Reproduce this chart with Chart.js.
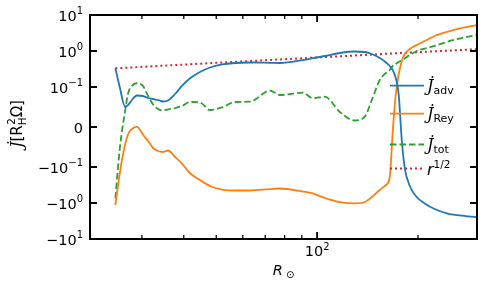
<!DOCTYPE html>
<html>
<head>
<meta charset="utf-8">
<script src="https://cdn.jsdelivr.net/npm/chart.js@4.4.1/dist/chart.umd.min.js"></script>
<style>
  body { margin: 0; background: #fff; }
  #wrap { width: 486px; height: 288px; }
</style>
</head>
<body>
<div id="wrap"><canvas id="chart" width="486" height="288"></canvas></div>
<script>
// radius grid (R_sun) shared by the three flux curves
const radius = [25, 25.8, 26.7, 27.3, 28.0, 29.0, 30.2, 31.3, 32.4, 33.5,
  34.7, 35.9, 37.7, 39.5, 41.7, 44.7, 47.9, 52.0, 56.8, 63.0,
  72.3, 77.4, 90.7, 97.1, 105.4, 116.9, 129.5, 138.8, 145.6, 153.8,
  159.2, 164.7, 168.1, 171.6, 175.2, 178.9, 182.6, 189.0, 198.2, 209.4,
  224.3, 243.5, 266.3, 299.2];

const jAdv = [0.331, 0.0975, 0.0512, 0.055, 0.0675, 0.0788, 0.0775, 0.0725, 0.070, 0.0675,
  0.0638, 0.0663, 0.0825, 0.107, 0.172, 0.261, 0.348, 0.422, 0.464, 0.48,
  0.47, 0.464, 0.56, 0.63, 0.726, 0.88, 0.968, 0.938, 0.826, 0.64,
  0.511, 0.383, 0.297, 0.178, 0.080, -0.0325, -0.107, -0.337, -0.681, -1.03,
  -1.47, -1.93, -2.22, -2.49];

const jRey = [-1.14, -0.138, -0.045, -0.0175, -0.005, 0.0005, -0.0188, -0.035, -0.0525, -0.060,
  -0.0625, -0.0588, -0.075, -0.0913, -0.147, -0.23, -0.337, -0.422, -0.45, -0.45,
  -0.41, -0.395, -0.48, -0.544, -0.72, -0.94, -1.02, -0.94, -0.68, -0.435,
  -0.337, -0.19, -0.0125, 0.080, 0.23, 0.527, 0.826, 1.14, 1.47, 1.89,
  2.61, 3.37, 4.22, 5.27];

const jTot = [-0.741, -0.05, 0.0375, 0.085, 0.107, 0.127, 0.107, 0.0775, 0.0563, 0.045,
  0.0413, 0.0438, 0.0475, 0.0525, 0.0625, 0.0613, 0.0425, 0.0488, 0.0625, 0.0633,
  0.0908, 0.080, 0.0858, 0.0718, 0.0758, 0.0375, 0.0163, 0.0258, 0.0675, 0.156,
  0.23, 0.297, 0.383, 0.435, 0.495, 0.544, 0.62, 0.774, 1.0, 1.17,
  1.38, 1.78, 2.22, 2.78];

// reference r^{1/2} line
const rRef = [25, 50, 100, 200, 300];
const jRef = [0.33, 0.47, 0.66, 0.93, 1.12];

// ticks
const yTicks = [10, 1, 0.1, 0, -0.1, -1, -10];
const yTickText = [['10', '1'], ['10', '0'], ['10', '\u22121'], ['0', ''], ['\u221210', '\u22121'], ['\u221210', '0'], ['\u221210', '1']];
const xMajor = [100];
const xMajorText = [['10', '2']];
const xMinor = [30, 40, 50, 60, 70, 80, 90, 200];

const LINTHRESH = 0.1;

// symmetric log scale (matplotlib style, linscale 1)
class SymlogScale extends Chart.LinearScale {
  _t(v) {
    const ls = 1 / (1 - 1 / 10);
    const a = Math.abs(v);
    if (a <= LINTHRESH) return v / LINTHRESH * ls;
    return Math.sign(v) * (ls + Math.log10(a / LINTHRESH));
  }
  buildTicks() {
    return yTicks.map(v => ({ value: v }));
  }
  configure() {
    super.configure();
    this._tmin = this._t(this.min);
    this._tmax = this._t(this.max);
  }
  getPixelForValue(v) {
    if (v === null || v === undefined) return NaN;
    return this.getPixelForDecimal((this._t(v) - this._tmin) / (this._tmax - this._tmin));
  }
  getValueForPixel(p) {
    const ls = 1 / (1 - 1 / 10);
    const t = this._tmin + this.getDecimalForPixel(p) * (this._tmax - this._tmin);
    const a = Math.abs(t);
    if (a <= ls) return t / ls * LINTHRESH;
    return Math.sign(t) * LINTHRESH * Math.pow(10, a - ls);
  }
}
SymlogScale.id = 'symlog';
SymlogScale.defaults = Chart.LinearScale.defaults;
Chart.register(SymlogScale);

function pts(xs, ys) {
  return xs.map((x, i) => ({ x: x, y: ys[i] }));
}

const TICK_FONT = "14.5px 'DejaVu Sans'";
const SUP_FONT = "10px 'DejaVu Sans'";

// draw a run of text pieces: [text, font, dy]
function drawRuns(ctx, runs, x, y, align) {
  let total = 0;
  runs.forEach(r => { ctx.font = r[1]; total += ctx.measureText(r[0]).width; });
  let cx = align === 'right' ? x - total : align === 'center' ? x - total / 2 : x;
  ctx.textAlign = 'left';
  runs.forEach(r => {
    ctx.font = r[1];
    ctx.fillText(r[0], cx, y + r[2]);
    cx += ctx.measureText(r[0]).width;
  });
  return cx - total;
}

const frame = {
  id: 'frame',
  afterDatasetsDraw(chart) {
    const ctx = chart.ctx, ca = chart.chartArea;
    const xs = chart.scales.x, ys = chart.scales.y;
    ctx.save();
    ctx.strokeStyle = '#000';
    ctx.fillStyle = '#000';

    // inward ticks
    ctx.lineWidth = 1.8;
    ctx.beginPath();
    yTicks.forEach(v => {
      const py = ys.getPixelForValue(v);
      ctx.moveTo(ca.left, py); ctx.lineTo(ca.left + 7, py);
      ctx.moveTo(ca.right, py); ctx.lineTo(ca.right - 7, py);
    });
    xMajor.forEach(v => {
      const px = xs.getPixelForValue(v);
      ctx.moveTo(px, ca.bottom); ctx.lineTo(px, ca.bottom - 7);
      ctx.moveTo(px, ca.top); ctx.lineTo(px, ca.top + 7);
    });
    ctx.stroke();
    ctx.lineWidth = 1.3;
    ctx.beginPath();
    xMinor.forEach(v => {
      const px = xs.getPixelForValue(v);
      ctx.moveTo(px, ca.bottom); ctx.lineTo(px, ca.bottom - 4);
      ctx.moveTo(px, ca.top); ctx.lineTo(px, ca.top + 4);
    });
    ctx.stroke();

    // frame
    ctx.lineWidth = 2;
    ctx.strokeRect(ca.left, ca.top, ca.right - ca.left, ca.bottom - ca.top);

    // tick labels
    ctx.textBaseline = 'alphabetic';
    yTicks.forEach((v, i) => {
      const py = ys.getPixelForValue(v);
      const t = yTickText[i];
      drawRuns(ctx, [[t[0], TICK_FONT, 5.5], [t[1], SUP_FONT, -1]], ca.left - 7, py, 'right');
    });
    xMajor.forEach((v, i) => {
      const px = xs.getPixelForValue(v);
      const t = xMajorText[i];
      drawRuns(ctx, [[t[0], TICK_FONT, 0], [t[1], SUP_FONT, -6]], px, ca.bottom + 17, 'center');
    });

    // axis titles
    drawRuns(ctx, [['R', "italic 14.5px 'DejaVu Sans'", 0], [' \u2299', "10px 'DejaVu Sans'", 3]],
      (ca.left + ca.right) / 2, 275, 'center');

    // y title: J-dot [R_H^2 Omega], rotated
    ctx.save();
    ctx.translate(22, (ca.top + ca.bottom) / 2 - 3);
    ctx.rotate(-Math.PI / 2);
    const jf = "italic 16px 'DejaVu Serif'", bf = "15px 'DejaVu Sans'", sf = "10.5px 'DejaVu Sans'";
    ctx.font = jf; const w1 = ctx.measureText('J\u0307').width;
    ctx.font = bf; const w2 = ctx.measureText('[R').width; const w4 = ctx.measureText('\u03a9]').width;
    ctx.font = sf; const w3 = ctx.measureText('H').width;
    const start = -(w1 + w2 + w3 + w4) / 2;
    ctx.textAlign = 'left';
    ctx.font = jf; ctx.fillText('J\u0307', start, 0);
    ctx.font = bf; ctx.fillText('[R', start + w1, 0);
    ctx.font = sf; ctx.fillText('H', start + w1 + w2, 3.5); ctx.fillText('2', start + w1 + w2 + 0.5, -7);
    ctx.font = bf; ctx.fillText('\u03a9]', start + w1 + w2 + w3, 0);
    ctx.restore();

    // legend
    const lx0 = 390, lx1 = 424, tx = 427;
    const rows = [85.7, 113.7, 144.5, 168.5];
    chart.data.datasets.forEach((ds, i) => {
      const y = rows[i];
      ctx.save();
      ctx.strokeStyle = ds.borderColor;
      ctx.lineWidth = ds.borderWidth;
      ctx.setLineDash(ds.borderDash || []);
      ctx.beginPath(); ctx.moveTo(lx0, y); ctx.lineTo(lx1, y); ctx.stroke();
      ctx.restore();
      if (i < 3) {
        drawRuns(ctx, [['J\u0307', "italic 16px 'DejaVu Serif'", 5], [ds.label, "11px 'DejaVu Sans'", 8]], tx, y, 'left');
      } else {
        drawRuns(ctx, [['r', "italic 16px 'DejaVu Sans'", 6], ['1/2', "10.5px 'DejaVu Sans'", -1]], tx, y, 'left');
      }
    });
    ctx.restore();
  }
};

new Chart(document.getElementById('chart'), {
  type: 'line',
  data: {
    datasets: [
      { label: 'adv', data: pts(radius, jAdv), borderColor: '#1f77b4', borderWidth: 1.8 },
      { label: 'Rey', data: pts(radius, jRey), borderColor: '#ff7f0e', borderWidth: 1.8 },
      { label: 'tot', data: pts(radius, jTot), borderColor: '#2ca02c', borderWidth: 1.8, borderDash: [6.5, 3] },
      { label: 'r', data: pts(rRef, jRef), borderColor: '#d62728', borderWidth: 2, borderDash: [2, 3] }
    ]
  },
  options: {
    responsive: false,
    animation: false,
    devicePixelRatio: 1,
    layout: { padding: { left: 90, right: 9, top: 15, bottom: 49 } },
    elements: {
      point: { radius: 0 },
      line: { cubicInterpolationMode: 'monotone', fill: false }
    },
    scales: {
      x: {
        type: 'logarithmic', min: 21, max: 300,
        grid: { display: false }, border: { display: false },
        ticks: { display: false },
        afterFit(s) { s.height = 0; }
      },
      y: {
        type: 'symlog', min: -10, max: 10,
        grid: { display: false }, border: { display: false },
        ticks: { display: false },
        afterFit(s) { s.width = 0; }
      }
    },
    plugins: { legend: { display: false }, tooltip: { enabled: false } }
  },
  plugins: [frame]
});
</script>
</body>
</html>
